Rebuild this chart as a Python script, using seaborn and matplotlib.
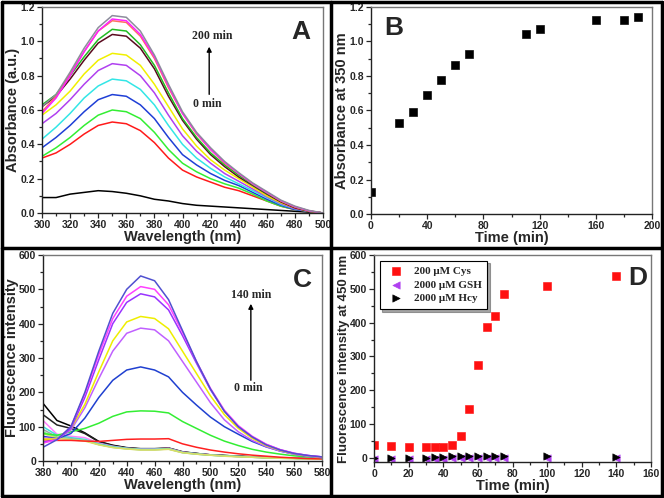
# Cys probe: absorbance / fluorescence time course, 4 panels
import numpy as np
import pandas as pd
import matplotlib
matplotlib.use("Agg")
import matplotlib.pyplot as plt
from matplotlib.lines import Line2D
from matplotlib.ticker import MultipleLocator
import seaborn as sns

sns.set_style("ticks")
plt.rcParams["font.family"] = ["Liberation Sans", "DejaVu Sans"]
plt.rcParams["font.weight"] = "bold"

# ---- panel A: UV-vis spectra (every 10 nm) ----
wl_a = list(range(300, 501, 10))
abs_times = [0, 20, 30, 40, 50, 60, 70, 110, 120, 160, 180, 190]
abs_colors = ["black", "#ff1a1a", "#33ee33", "#1f3fd6", "#33e6e6", "#b040f0",
              "#f0f000", "#5a0a1e", "#22bb22", "#ff7060", "#ff20ff", "#8c8c9c"]
abs_spectra = [
    [0.09, 0.09, 0.11, 0.12, 0.13, 0.125, 0.115, 0.10, 0.08, 0.07, 0.055, 0.045, 0.04, 0.035, 0.03, 0.025, 0.02, 0.015, 0.01, 0.005, 0.0],
    [0.32, 0.35, 0.40, 0.46, 0.51, 0.53, 0.52, 0.48, 0.41, 0.32, 0.25, 0.21, 0.18, 0.15, 0.13, 0.10, 0.07, 0.04, 0.02, 0.01, 0.0],
    [0.33, 0.38, 0.44, 0.51, 0.57, 0.60, 0.59, 0.55, 0.47, 0.37, 0.29, 0.24, 0.20, 0.17, 0.145, 0.11, 0.07, 0.04, 0.02, 0.01, 0.0],
    [0.38, 0.44, 0.51, 0.59, 0.66, 0.69, 0.68, 0.63, 0.55, 0.44, 0.34, 0.28, 0.23, 0.19, 0.16, 0.12, 0.08, 0.045, 0.02, 0.01, 0.0],
    [0.43, 0.50, 0.58, 0.67, 0.74, 0.78, 0.77, 0.72, 0.63, 0.51, 0.40, 0.32, 0.26, 0.21, 0.17, 0.13, 0.09, 0.05, 0.025, 0.01, 0.0],
    [0.52, 0.58, 0.66, 0.75, 0.83, 0.87, 0.86, 0.80, 0.70, 0.57, 0.45, 0.36, 0.29, 0.23, 0.185, 0.14, 0.095, 0.055, 0.025, 0.01, 0.0],
    [0.57, 0.63, 0.71, 0.81, 0.89, 0.93, 0.92, 0.86, 0.75, 0.62, 0.49, 0.39, 0.31, 0.25, 0.20, 0.15, 0.10, 0.06, 0.03, 0.01, 0.0],
    [0.62, 0.68, 0.78, 0.89, 0.99, 1.04, 1.03, 0.96, 0.84, 0.68, 0.54, 0.43, 0.34, 0.27, 0.21, 0.16, 0.11, 0.065, 0.03, 0.01, 0.0],
    [0.63, 0.69, 0.80, 0.91, 1.01, 1.07, 1.06, 0.98, 0.86, 0.70, 0.55, 0.44, 0.35, 0.28, 0.22, 0.165, 0.115, 0.07, 0.035, 0.012, 0.0],
    [0.59, 0.68, 0.81, 0.94, 1.06, 1.12, 1.11, 1.03, 0.90, 0.73, 0.58, 0.46, 0.37, 0.29, 0.23, 0.17, 0.12, 0.07, 0.035, 0.012, 0.0],
    [0.58, 0.67, 0.80, 0.94, 1.06, 1.13, 1.12, 1.04, 0.91, 0.74, 0.58, 0.465, 0.37, 0.295, 0.23, 0.17, 0.12, 0.072, 0.037, 0.013, 0.0],
    [0.62, 0.69, 0.82, 0.96, 1.08, 1.15, 1.14, 1.06, 0.92, 0.75, 0.59, 0.47, 0.38, 0.30, 0.235, 0.175, 0.125, 0.075, 0.04, 0.015, 0.0],
]

# ---- panel B: absorbance at 350 nm ----
b_time = [0, 20, 30, 40, 50, 60, 70, 110, 120, 160, 180, 190]
b_abs = [0.125, 0.53, 0.59, 0.69, 0.775, 0.865, 0.93, 1.045, 1.07, 1.125, 1.125, 1.14]

# ---- panel C: fluorescence spectra (every 10 nm) ----
wl_c = list(range(380, 581, 10))
fl_colors = ["black", "#222222", "#ff80ff", "#44dddd", "#99aaaa", "#88ee88", "#dddd66",
             "#ff2020", "#33ee33", "#2040d0", "#c060ff", "#eeee00", "#9933ff", "#ff40ff", "#5050d0"]
fl_spectra = [
    [168, 118, 102, 82, 57, 46, 39, 36, 36, 38, 27, 22, 18, 16, 14, 12, 10, 9, 8, 7, 6],
    [135, 105, 95, 80, 56, 45, 38, 35, 35, 37, 26, 22, 18, 16, 14, 12, 10, 9, 8, 7, 6],
    [118, 78, 72, 68, 52, 43, 37, 35, 35, 37, 26, 21, 18, 15, 13, 11, 10, 9, 8, 7, 6],
    [100, 75, 68, 63, 50, 42, 37, 34, 34, 36, 25, 21, 17, 15, 13, 11, 10, 9, 8, 7, 6],
    [92, 70, 65, 60, 48, 40, 36, 33, 33, 35, 25, 20, 17, 15, 13, 11, 10, 9, 8, 7, 6],
    [85, 68, 63, 60, 48, 40, 35, 33, 33, 35, 24, 20, 17, 15, 13, 11, 9, 8, 7, 6, 5],
    [80, 66, 62, 58, 47, 39, 35, 32, 32, 34, 24, 20, 17, 14, 12, 11, 9, 8, 7, 6, 5],
    [62, 60, 60, 58, 57, 60, 63, 64, 64, 65, 50, 40, 32, 26, 21, 17, 14, 11, 9, 7, 6],
    [80, 75, 85, 95, 110, 130, 143, 146, 145, 140, 115, 95, 75, 58, 45, 34, 26, 20, 15, 12, 10],
    [72, 65, 80, 125, 185, 235, 265, 274, 265, 245, 200, 163, 128, 100, 78, 57, 41, 29, 20, 14, 10],
    [68, 64, 90, 155, 240, 320, 372, 387, 382, 350, 290, 230, 170, 120, 85, 60, 42, 29, 20, 14, 10],
    [64, 64, 95, 165, 260, 350, 405, 421, 415, 385, 320, 255, 190, 135, 95, 66, 45, 31, 21, 15, 11],
    [55, 62, 95, 185, 295, 400, 462, 487, 478, 440, 365, 285, 208, 145, 100, 70, 48, 33, 22, 16, 12],
    [52, 62, 100, 195, 310, 415, 480, 508, 500, 455, 375, 290, 212, 148, 103, 72, 49, 33, 23, 16, 12],
    [40, 62, 100, 200, 320, 430, 500, 539, 525, 470, 380, 290, 210, 145, 100, 70, 47, 32, 22, 16, 12],
]

# ---- panel D: fluorescence at 450 nm ----
d_time = [0, 10, 20, 30, 35, 40, 45, 50, 55, 60, 65, 70, 75, 100, 140]
d_cys = [38, 36, 33, 31, 32, 33, 38, 64, 146, 274, 387, 421, 486, 508, 539]
d_gsh = [-2, -2, -2, -2, -2, -2, -1, -1, -1, -1, -1, -1, -1, -1, -1]
d_hcy = [0, 0, 0, 1, 3, 4, 5, 5, 6, 6, 6, 6, 6, 5, 4]

fig = plt.figure(figsize=(6.64, 4.98), dpi=100)
W, H = 664, 498


def add_ax(left, top, right, bottom):
    return fig.add_axes([left / W, 1 - bottom / H, (right - left) / W, (bottom - top) / H])


def style(ax):
    for s in ["left", "bottom"]:
        ax.spines[s].set_color("#222222")
    for s in ["top", "right"]:
        ax.spines[s].set_color("#777777")
    for s in ax.spines.values():
        s.set_linewidth(1.0)
        s.set_visible(True)
    ax.tick_params(which="both", direction="out", labelsize=7.5, width=0.9, pad=1.5)
    ax.tick_params(which="major", length=3.5)
    ax.tick_params(which="minor", length=2)
    for lab in ax.get_xticklabels() + ax.get_yticklabels():
        lab.set_fontweight("bold")


lab_kw = dict(fontsize=10.5, fontweight="bold", labelpad=0)
serif = ["Liberation Serif", "DejaVu Serif"]

# A
axA = add_ax(42, 7, 323, 213)
dfA = pd.DataFrame([(t, w, v) for t, sp in zip(abs_times, abs_spectra) for w, v in zip(wl_a, sp)],
                   columns=["time", "wl", "abs"])
sns.lineplot(data=dfA, x="wl", y="abs", hue="time", palette=dict(zip(abs_times, abs_colors)),
             estimator=None, lw=1.1, legend=False, ax=axA)
axA.set_xlim(300, 500)
axA.set_ylim(0, 1.2)
axA.xaxis.set_major_locator(MultipleLocator(20))
axA.xaxis.set_minor_locator(MultipleLocator(10))
axA.yaxis.set_major_locator(MultipleLocator(0.2))
axA.yaxis.set_minor_locator(MultipleLocator(0.1))
axA.set_xlabel("Wavelength (nm)", **lab_kw)
axA.set_ylabel("Absorbance (a.u.)", **lab_kw)
style(axA)
axA.annotate("", xy=(419, 0.985), xytext=(419, 0.675),
             arrowprops=dict(arrowstyle="-|>", color="black", lw=1.0, mutation_scale=7))
axA.text(421, 1.03, "200 min", family=serif, fontweight="bold", fontsize=8.5, ha="center", va="center")
axA.text(418, 0.635, "0 min", family=serif, fontweight="bold", fontsize=8.5, ha="center", va="center")
axA.text(0.92, 0.88, "A", transform=axA.transAxes, fontsize=19, fontweight="bold", ha="center", va="center")

# B
axB = add_ax(371, 7, 652, 214)
sns.scatterplot(x=b_time, y=b_abs, marker="s", s=30, color="black", edgecolor="black", ax=axB)
axB.set_xlim(0, 200)
axB.set_ylim(0, 1.2)
axB.xaxis.set_major_locator(MultipleLocator(40))
axB.xaxis.set_minor_locator(MultipleLocator(20))
axB.yaxis.set_major_locator(MultipleLocator(0.2))
axB.yaxis.set_minor_locator(MultipleLocator(0.1))
axB.set_xlabel("Time (min)", **lab_kw)
axB.set_ylabel("Absorbance at 350 nm", **lab_kw)
style(axB)
axB.text(0.08, 0.90, "B", transform=axB.transAxes, fontsize=19, fontweight="bold", ha="center", va="center")

# C
axC = add_ax(43, 255, 322, 461)
curves = list(range(len(fl_spectra)))
dfC = pd.DataFrame([(i, w, v) for i, sp in zip(curves, fl_spectra) for w, v in zip(wl_c, sp)],
                   columns=["curve", "wl", "fl"])
sns.lineplot(data=dfC, x="wl", y="fl", hue="curve", palette=dict(zip(curves, fl_colors)),
             estimator=None, lw=1.1, legend=False, ax=axC)
axC.set_xlim(380, 580)
axC.set_ylim(0, 600)
axC.xaxis.set_major_locator(MultipleLocator(20))
axC.xaxis.set_minor_locator(MultipleLocator(10))
axC.yaxis.set_major_locator(MultipleLocator(100))
axC.yaxis.set_minor_locator(MultipleLocator(50))
axC.set_xlabel("Wavelength (nm)", **lab_kw)
axC.set_ylabel("Fluorescence intensity", **lab_kw)
style(axC)
axC.annotate("", xy=(529, 466), xytext=(529, 227),
             arrowprops=dict(arrowstyle="-|>", color="black", lw=1.0, mutation_scale=7))
axC.text(529, 483, "140 min", family=serif, fontweight="bold", fontsize=8.5, ha="center", va="center")
axC.text(527, 213, "0 min", family=serif, fontweight="bold", fontsize=8.5, ha="center", va="center")
axC.text(0.93, 0.88, "C", transform=axC.transAxes, fontsize=19, fontweight="bold", ha="center", va="center")

# D
axD = add_ax(374, 255, 651, 462)
sns.scatterplot(x=d_time, y=d_cys, marker="s", s=26, color="#ff1010", edgecolor="#ff1010",
                label="200 \u03bcM Cys", ax=axD)
sns.scatterplot(x=d_time, y=d_gsh, marker="<", s=28, color="#b040f0", edgecolor="#b040f0",
                label="2000 \u03bcM GSH", ax=axD)
sns.scatterplot(x=d_time, y=d_hcy, marker=">", s=28, color="black", edgecolor="black",
                label="2000 \u03bcM Hcy", ax=axD)
axD.set_xlim(0, 160)
axD.set_ylim(-12, 600)
axD.xaxis.set_major_locator(MultipleLocator(20))
axD.xaxis.set_minor_locator(MultipleLocator(10))
axD.yaxis.set_major_locator(MultipleLocator(100))
axD.yaxis.set_minor_locator(MultipleLocator(50))
axD.set_xlabel("Time (min)", **lab_kw)
axD.set_ylabel("Fluorescence intensity at 450 nm", fontsize=9.5, fontweight="bold", labelpad=0)
style(axD)
leg = axD.legend(loc="upper left", bbox_to_anchor=(0.0, 1.0), prop=dict(family=serif, weight="bold", size=8),
                 frameon=True, fancybox=False, shadow=True, edgecolor="black", handletextpad=0.6,
                 borderpad=0.5, labelspacing=0.35)
leg.get_frame().set_linewidth(0.8)
axD.text(0.953, 0.89, "D", transform=axD.transAxes, fontsize=19, fontweight="bold", ha="center", va="center")

# outer frame and dividers
for xs, ys in [((2, 662), (2, 2)), ((2, 662), (496, 496)), ((2, 2), (2, 496)), ((662, 662), (2, 496)),
               ((331, 331), (2, 496)), ((2, 662), (248, 248))]:
    fig.add_artist(Line2D([x / W for x in xs], [1 - y / H for y in ys], color="black", lw=2.5))

fig.savefig("out.png", dpi=100)
